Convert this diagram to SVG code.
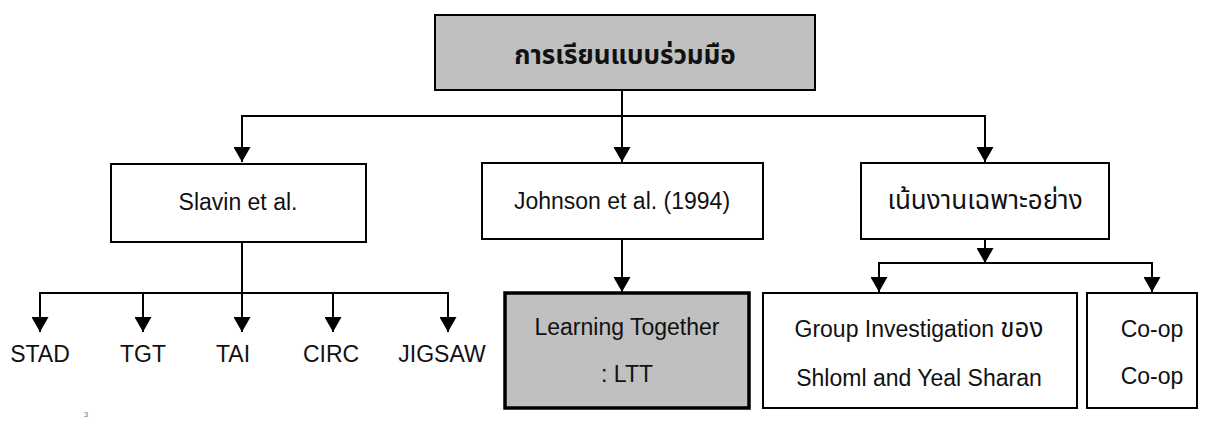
<svg xmlns="http://www.w3.org/2000/svg" width="1206" height="421" viewBox="0 0 1206 421">
  <style>
    .box { fill: #ffffff; stroke: #000000; stroke-width: 2; }
    .shade { fill: #c0c0c0; stroke: #000000; stroke-width: 2; }
    .thick { stroke-width: 3.5; }
    .lbl { font-family: "Liberation Sans", Arial, "Noto Sans Thai", "Noto Sans", sans-serif; font-size: 23px; fill: #111111; text-anchor: middle; }
    .thai { font-family: "Noto Sans Thai", "Noto Sans", "Liberation Sans", "DejaVu Sans", sans-serif; font-size: 26px; fill: #111111; text-anchor: middle; }
    .bold { font-weight: bold; }
    .wire { fill: none; stroke: #000000; stroke-width: 2; }
  </style>
  <defs>
    <marker id="head" markerUnits="userSpaceOnUse" markerWidth="17" markerHeight="17" viewBox="0 0 15 17" refX="15" refY="8.5" orient="auto">
      <path d="M0,0 L15,8.5 L0,17 Z" fill="#000000"/>
    </marker>
  </defs>

  <rect width="1206" height="421" fill="#ffffff"/>

  <!-- connectors -->
  <g id="connectors" class="wire">
    <path d="M622,90 V162" marker-end="url(#head)"/>
    <path d="M622,116 H242 V162" marker-end="url(#head)"/>
    <path d="M622,116 H985 V162" marker-end="url(#head)"/>

    <path d="M242,242 V332" marker-end="url(#head)"/>
    <path d="M242,293 H40 V332" marker-end="url(#head)"/>
    <path d="M143,293 V332" marker-end="url(#head)"/>
    <path d="M242,293 H448 V332" marker-end="url(#head)"/>
    <path d="M333,293 V332" marker-end="url(#head)"/>

    <path d="M622,239 V292" marker-end="url(#head)"/>

    <path d="M985,239 V263" marker-end="url(#head)"/>
    <path d="M985,263 H879 V292" marker-end="url(#head)"/>
    <path d="M985,263 H1152 V292" marker-end="url(#head)"/>
  </g>

  <!-- root -->
  <g id="root">
    <rect class="shade" x="435" y="15" width="380" height="75"/>
    <text class="thai bold" x="625" y="64" font-size="25">การเรียนแบบร่วมมือ</text>
  </g>

  <!-- second level -->
  <g id="slavin">
    <rect class="box" x="111" y="164" width="255" height="78"/>
    <text class="lbl" x="238" y="210">Slavin et al.</text>
  </g>
  <g id="johnson">
    <rect class="box" x="482" y="163" width="281" height="76"/>
    <text class="lbl" x="622" y="209">Johnson et al. (1994)</text>
  </g>
  <g id="specific">
    <rect class="box" x="861" y="163" width="248" height="76"/>
    <text class="thai" x="985" y="209">เน้นงานเฉพาะอย่าง</text>
  </g>

  <!-- Slavin techniques -->
  <g id="stad"><text class="lbl" x="40" y="362">STAD</text></g>
  <g id="tgt"><text class="lbl" x="143" y="362">TGT</text></g>
  <g id="tai"><text class="lbl" x="233" y="362">TAI</text></g>
  <g id="circ"><text class="lbl" x="331" y="362">CIRC</text></g>
  <g id="jigsaw"><text class="lbl" x="442" y="362">JIGSAW</text></g>

  <!-- Johnson technique -->
  <g id="ltt">
    <rect class="shade thick" x="505" y="293" width="244" height="115"/>
    <text class="lbl" x="627" y="335">Learning Together</text>
    <text class="lbl" x="627" y="382">: LTT</text>
  </g>

  <!-- task-specific techniques -->
  <g id="group-investigation">
    <rect class="box" x="763" y="293" width="314" height="115"/>
    <text class="lbl" x="919" y="337">Group Investigation <tspan class="thai">ของ</tspan></text>
    <text class="lbl" x="919" y="386">Shloml and Yeal Sharan</text>
  </g>
  <g id="coop">
    <rect class="box" x="1087" y="293" width="110" height="115"/>
    <text class="lbl" x="1152" y="337">Co-op</text>
    <text class="lbl" x="1152" y="384">Co-op</text>
  </g>

  <text x="86" y="417" font-family="Liberation Sans, sans-serif" font-size="8" fill="#777777" text-anchor="middle">3</text>
</svg>
